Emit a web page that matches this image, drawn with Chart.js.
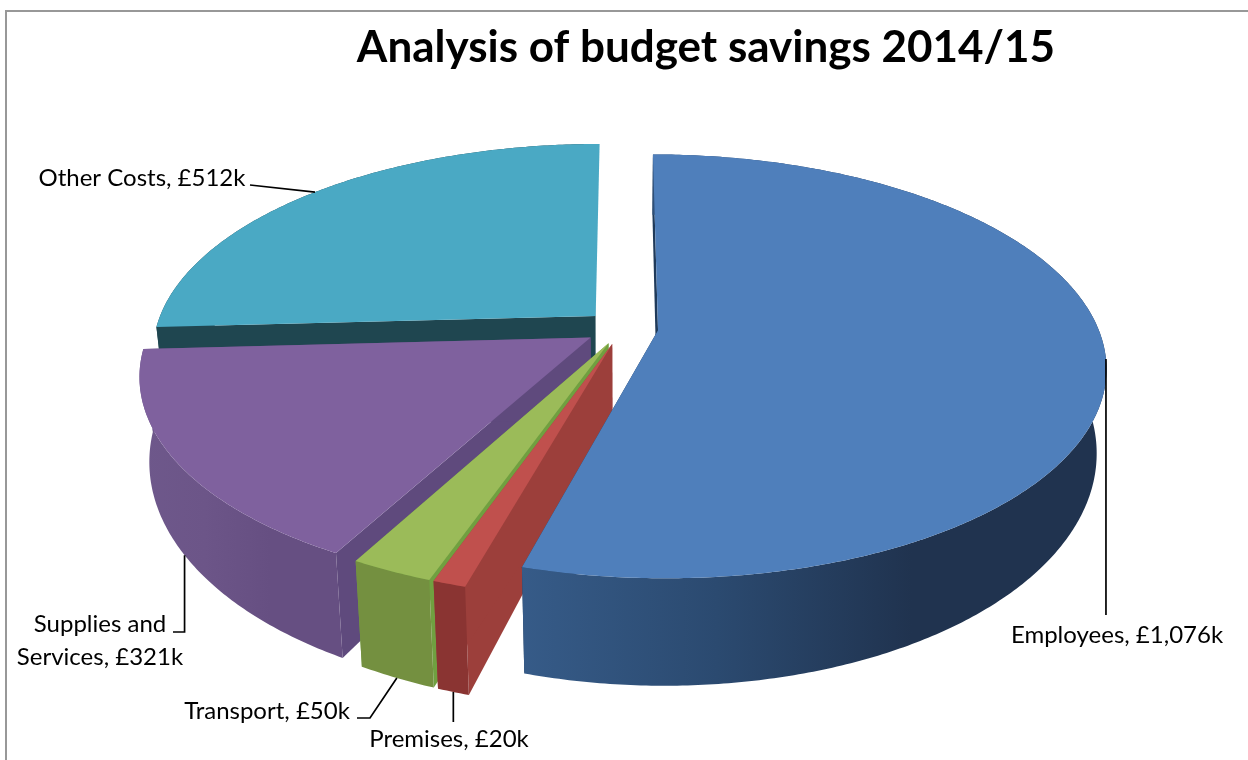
<!DOCTYPE html>
<html>
<head>
<meta charset="utf-8">
<title>Analysis of budget savings 2014/15</title>
<script src="https://cdn.jsdelivr.net/npm/chart.js@4/dist/chart.umd.js"></script>
<style>
  html, body { margin: 0; padding: 0; background: #fff; overflow: hidden; }
  canvas { display: block; }
</style>
</head>
<body>
<canvas id="savings-chart" width="1248" height="760"></canvas>
<script>
// Savings in £k, clockwise from twelve o'clock
const categories = ["Employees", "Premises", "Transport", "Supplies and Services", "Other Costs"];
const savings = [1076, 20, 50, 321, 512];
const explode = [26, 26, 26, 28, 28];

const topColours = ["#4f7fbb", "#c0504d", "#9bbb59", "#7f619e", "#4aa9c4"];
const faceColours = ["#1f3a5a", "#9c3f3b", "#70a040", "#5f4a7d", "#1f4650"];
const wallColours = [
  ["#365b88", "#2b4a70", "#20334f", "#20334f"],
  ["#8a3432", "#8a3432", "#8a3432", "#8a3432"],
  ["#749040", "#749040", "#749040", "#749040"],
  ["#6e588b", "#6c5588", "#664f82", "#664f82"],
  ["#1f4650", "#1f4650", "#1f4650", "#1f4650"]
];

// The back slices get painted first so the front ones sit over them
const paintOrder = [4, 3, 2, 1, 0];

// Camera for the tilted pie
const view = { cx: 623, cy: 328, a: 440, b: 205, persp: 0.17, shrink: 0.02, depth: 82, depthFront: 14 };

function project(u, v, z) {
  const w = 1 - view.persp * v + view.shrink * z;
  const d = (view.depth + view.depthFront * v) * z;
  return { x: view.cx + view.a * u / w, y: view.cy + (view.b * v + d) / w };
}

// Point on a slice: angle in radians, r as fraction of the radius, z 0 = top, 1 = bottom
function slicePoint(arc, angle, r, z) {
  const mid = (arc.startAngle + arc.endAngle) / 2;
  const off = arc.options.offset / arc.outerRadius;
  return project(off * Math.cos(mid) + r * Math.cos(angle), off * Math.sin(mid) + r * Math.sin(angle), z);
}

function rimPoints(arc, z) {
  const pts = [];
  const steps = Math.max(4, Math.ceil((arc.endAngle - arc.startAngle) / 0.01));
  for (let i = 0; i <= steps; i++) {
    pts.push(slicePoint(arc, arc.startAngle + (arc.endAngle - arc.startAngle) * i / steps, 1, z));
  }
  return pts;
}

function fillPoly(ctx, pts, fill) {
  ctx.beginPath();
  pts.forEach((p, i) => (i ? ctx.lineTo(p.x, p.y) : ctx.moveTo(p.x, p.y)));
  ctx.closePath();
  ctx.fillStyle = fill;
  ctx.fill();
}

function drawSides(ctx, arc, i) {
  ctx.save();
  // the last slice closes at twelve o'clock, its side must not peek out past the top
  if (i === categories.length - 1) {
    ctx.beginPath();
    ctx.rect(0, 0, slicePoint(arc, arc.startAngle, 0, 0).x, 760);
    ctx.clip();
  }
  [arc.startAngle, arc.endAngle].forEach(angle => {
    fillPoly(ctx, [
      slicePoint(arc, angle, 0, 0),
      slicePoint(arc, angle, 1, 0),
      slicePoint(arc, angle, 1, 1),
      slicePoint(arc, angle, 0, 1)
    ], faceColours[i]);
  });
  const upper = rimPoints(arc, 0);
  const lower = rimPoints(arc, 1);
  const xs = upper.map(p => p.x);
  const grad = ctx.createLinearGradient(Math.min(...xs), 0, Math.max(...xs), 0);
  wallColours[i].forEach((c, k) => grad.addColorStop(k / 3, c));
  fillPoly(ctx, upper.concat(lower.reverse()), grad);
  ctx.restore();
}

function drawTop(ctx, arc, i) {
  fillPoly(ctx, [slicePoint(arc, arc.startAngle, 0, 0)].concat(rimPoints(arc, 0)), topColours[i]);
}

// Label placement. Leaders start on the slice rim (z); a null x in a bend keeps the line vertical
const labelLayout = [
  { x: 1117, y: 643, z: 0, bends: [[null, 615]] },
  { x: 449, y: 747, z: 1, bends: [[null, 722]] },
  { x: 267, y: 719, z: 1, bends: [[370, 718], [357, 718]] },
  { x: 100, y: 632, z: 1, bends: [[null, 632], [173, 632]], wrap: 180 },
  { x: 142, y: 186, z: 0, bends: [[250, 185]] }
];

function labelText(i) {
  return categories[i] + ", £" + savings[i].toLocaleString("en-GB") + "k";
}

function wrapLines(ctx, text, width) {
  if (!width) return [text];
  const lines = [];
  let line = "";
  text.split(" ").forEach(word => {
    const next = line ? line + " " + word : word;
    if (ctx.measureText(next).width > width && line) {
      lines.push(line);
      line = word;
    } else {
      line = next;
    }
  });
  lines.push(line);
  return lines;
}

const pie3d = {
  id: "pie3d",
  beforeDraw(chart) {
    const ctx = chart.ctx;
    ctx.save();
    ctx.strokeStyle = "#989898";
    ctx.lineWidth = 2;
    ctx.strokeRect(6, 11, 1400, 1000);
    ctx.restore();
  },
  beforeDatasetDraw(chart, args) {
    const ctx = chart.ctx;
    const arcs = args.meta.data;
    ctx.save();
    paintOrder.forEach(i => drawSides(ctx, arcs[i], i));
    paintOrder.forEach(i => drawTop(ctx, arcs[i], i));

    ctx.strokeStyle = "#000";
    ctx.lineWidth = 1.7;
    ctx.fillStyle = "#000";
    ctx.font = "24px Lato";
    ctx.textAlign = "center";
    ctx.textBaseline = "alphabetic";
    labelLayout.forEach((spot, i) => {
      const arc = arcs[i];
      const start = slicePoint(arc, (arc.startAngle + arc.endAngle) / 2, 1, spot.z);
      ctx.beginPath();
      ctx.moveTo(start.x, start.y);
      spot.bends.forEach(b => ctx.lineTo(b[0] === null ? start.x : b[0], b[1]));
      ctx.stroke();
      wrapLines(ctx, labelText(i), spot.wrap).forEach((line, k) => {
        ctx.fillText(line, spot.x, spot.y + k * 33);
      });
    });
    ctx.restore();
    return false;
  }
};

new Chart(document.getElementById("savings-chart"), {
  type: "pie",
  data: {
    labels: categories,
    datasets: [{ data: savings, backgroundColor: topColours, offset: explode, borderWidth: 0 }]
  },
  options: {
    responsive: false,
    animation: false,
    devicePixelRatio: 1,
    layout: { padding: { left: 164 } },
    plugins: {
      legend: { display: false },
      tooltip: { enabled: false },
      title: {
        display: true,
        text: "Analysis of budget savings 2014/15",
        color: "#000",
        font: { family: "Lato", size: 44, weight: "bold" },
        padding: { top: 21, bottom: 10 }
      }
    }
  },
  plugins: [pie3d]
});
</script>
</body>
</html>
